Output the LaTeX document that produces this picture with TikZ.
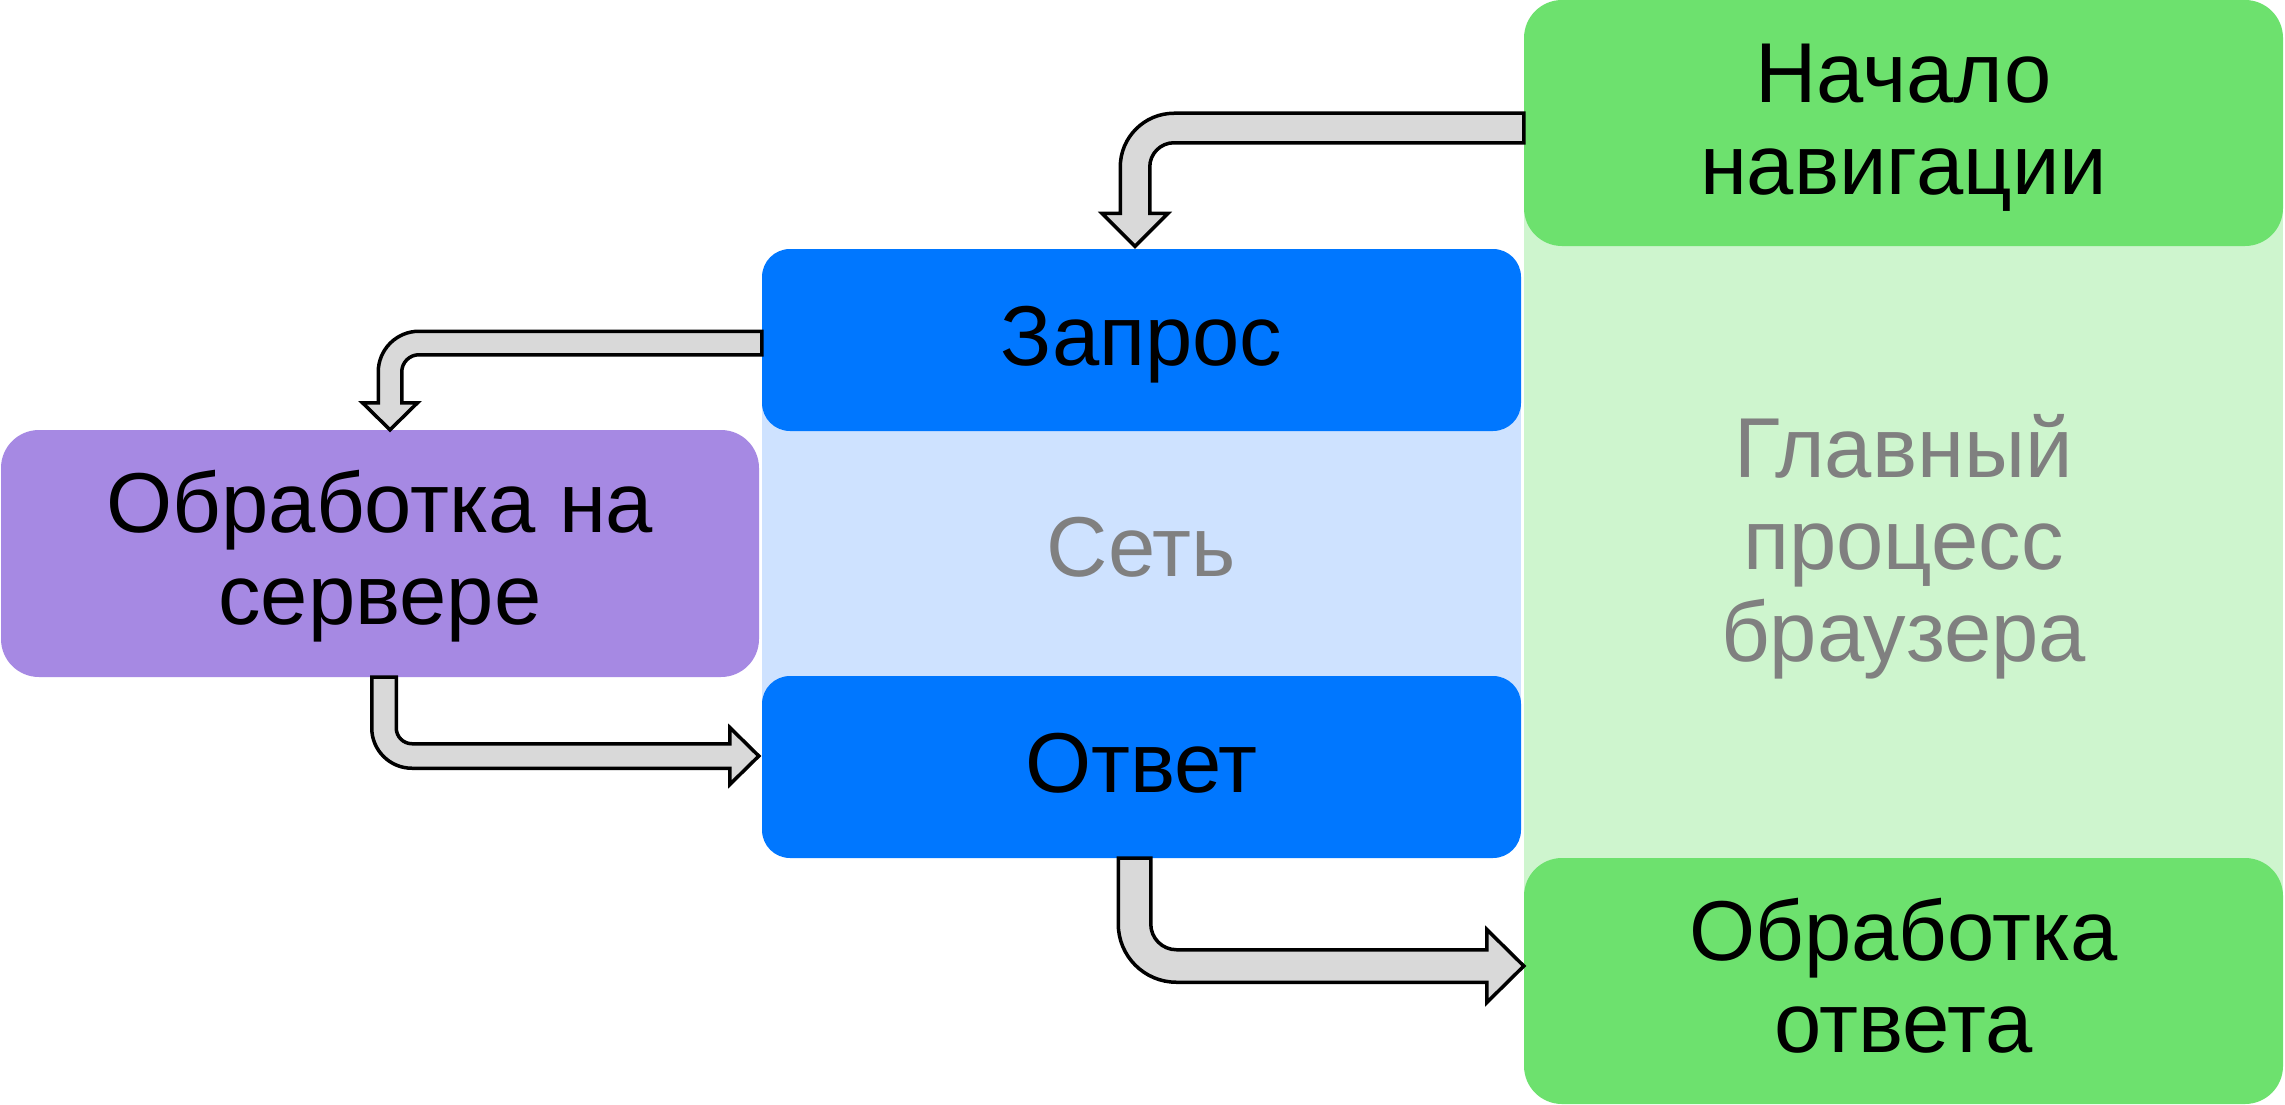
\documentclass[tikz,border=0pt]{standalone}
\usepackage{fontspec}
\setmainfont{Liberation Sans}
\usetikzlibrary{calc}

\definecolor{navgreen}{RGB}{109,225,110}
\definecolor{palegreen}{RGB}{206,245,206}
\definecolor{netblue}{RGB}{0,119,255}
\definecolor{paleblue}{RGB}{206,226,255}
\definecolor{srvpurple}{RGB}{166,137,227}
\definecolor{labelgray}{RGB}{128,128,128}
\definecolor{arrowgray}{RGB}{217,217,217}

% equal line boxes so that multi-line labels centre evenly
\newcommand\lnstrut{\rule[-0.24em]{0pt}{1.07em}}

\tikzset{
  labeltext/.style={font=\fontsize{85}{92}\selectfont, align=center, inner sep=0pt},
  stepbox/.style={labeltext, rectangle, draw=none, fill=#1, inner sep=0pt},
  band/.style={rectangle, draw=none, fill=#1, inner sep=0pt},
  blockarrow/.style={fill=arrowgray, draw=black, line width=3.5pt, line join=miter, miter limit=10},
}

% block arrow: leaves #1 to the left, bends down, points at #2
% #3 half width, #4 bend radius, #5 head half width, #6 head length
\newcommand\bendleftdown[6]{%
  \draw[blockarrow] let \p1=(#1), \p2=(#2) in
    (\x1,\y1+#3) -- (\x2+#4,\y1+#3)
    arc[start angle=90,end angle=180,radius=#4+#3]
    -- (\x2-#3,\y2+#6) -- (\x2-#5,\y2+#6) -- (\x2,\y2)
    -- (\x2+#5,\y2+#6) -- (\x2+#3,\y2+#6)
    -- (\x2+#3,\y1-#4)
    arc[start angle=180,end angle=90,radius=#4-#3]
    -- (\x1,\y1-#3) -- cycle;}

% block arrow: leaves #1 downwards, bends right, points at #2
\newcommand\benddownright[6]{%
  \draw[blockarrow] let \p1=(#1), \p2=(#2) in
    (\x1-#3,\y1) -- (\x1-#3,\y2+#4)
    arc[start angle=180,end angle=270,radius=#4+#3]
    -- (\x2-#6,\y2-#3) -- (\x2-#6,\y2-#5) -- (\x2,\y2)
    -- (\x2-#6,\y2+#5) -- (\x2-#6,\y2+#3)
    -- (\x1+#4,\y2+#3)
    arc[start angle=270,end angle=180,radius=#4-#3]
    -- (\x1+#3,\y1) -- cycle;}

\begin{document}
\begin{tikzpicture}[x=1pt, y=-1pt]
  \useasboundingbox (0,0) rectangle (2285,1105);
  \fill[white] (0,0) rectangle (2285,1105);

  % lanes: network and browser main process
  \node[band=paleblue, minimum width=759, minimum height=427] (netlane) at (1141.5,553.5) {};
  \node[band=palegreen, minimum width=759, minimum height=858] (mainlane) at (1903.5,552) {};

  \node[labeltext, text=labelgray] (netlabel) at (1141.5,551.5) {\lnstrut Сеть};
  \node[labeltext, text=labelgray] (mainlabel) at (1903.5,544.5)
    {\lnstrut Главный\\\lnstrut процесс\\\lnstrut браузера};

  % steps
  \node[stepbox=navgreen, rounded corners=38pt, minimum width=759, minimum height=246]
    (nav) at (1903.5,123) {\lnstrut Начало\\\lnstrut навигации};
  \node[stepbox=navgreen, rounded corners=38pt, minimum width=759, minimum height=246]
    (result) at (1903.5,981) {\lnstrut Обработка\\\lnstrut ответа};
  \node[stepbox=netblue, rounded corners=28pt, minimum width=759, minimum height=182]
    (zapros) at (1141.5,340) {\lnstrut Запрос};
  \node[stepbox=netblue, rounded corners=28pt, minimum width=759, minimum height=182]
    (otvet) at (1141.5,767) {\lnstrut Ответ};
  \node[stepbox=srvpurple, rounded corners=38pt, minimum width=758, minimum height=247]
    (server) at (380,553.5) {\lnstrut Обработка на\\\lnstrut сервере};

  % arrow ends
  \coordinate (a1s) at (nav.west |- 0,128);
  \coordinate (a1t) at ($(1135,0 |- zapros.north)+(0,-2.5)$);
  \coordinate (a2s) at (zapros.west |- 0,343);
  \coordinate (a2t) at (390,0 |- server.north);
  \coordinate (a3s) at (384,0 |- server.south);
  \coordinate (a3t) at ($(otvet.west |- 0,756)+(-3,0)$);
  \coordinate (a4s) at (1134.5,0 |- otvet.south);
  \coordinate (a4t) at (result.west |- 0,966);

  \bendleftdown{a1s}{a1t}{14.75pt}{39pt}{33pt}{33pt}
  \bendleftdown{a2s}{a2t}{11.75pt}{29pt}{27.5pt}{27pt}
  \benddownright{a3s}{a3t}{12.25pt}{28pt}{28.5pt}{29pt}
  \benddownright{a4s}{a4t}{16.25pt}{42pt}{36.5pt}{37pt}
\end{tikzpicture}
\end{document}
